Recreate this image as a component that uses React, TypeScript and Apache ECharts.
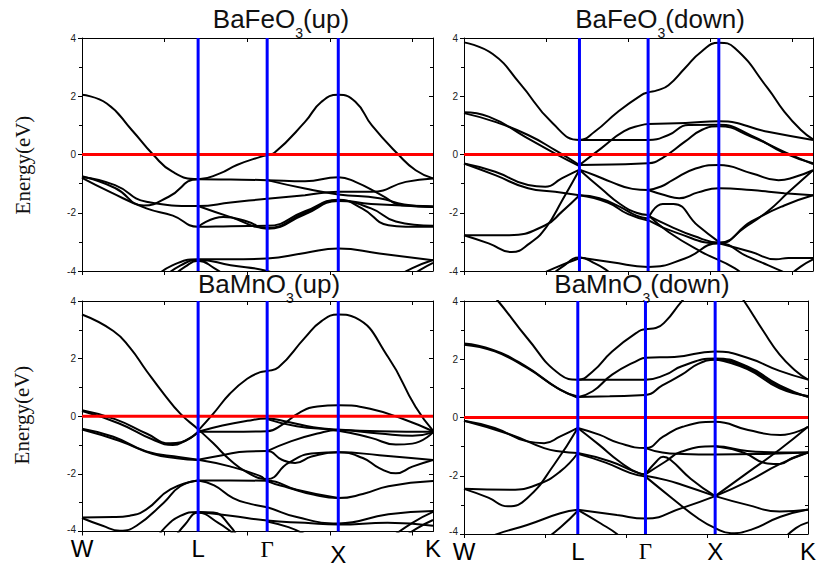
import React, { useEffect, useRef } from 'react';
import * as echarts from 'echarts';

// high-symmetry points (k-path coordinate) and their labels
const symLabels = ['W', 'L', 'Γ', 'X', 'K'];
const symPos = [0, 1.406, 2.242, 3.103, 4.25];
const tickPos = [0, 1, 2, 3, 4];
const kMax = 4.25;

const panelTitles = [
  ['BaFeO', '3', '(up)'],
  ['BaFeO', '3', '(down)'],
  ['BaMnO', '3', '(up)'],
  ['BaMnO', '3', '(down)'],
];

// BaFeO3 spin up bands [k, E(eV)]
const feUpBands: number[][][] = [
  [[0, 2.05], [0.3, 1.75], [0.6, 0.85], [0.86, 0], [1.1, -0.6], [1.406, -0.85], [1.67, -0.65], [1.875, -0.36], [2.16, -0.08], [2.242, -0.02], [2.33, 0.06], [2.7, 1.12], [2.9, 1.81], [3.103, 2.05], [3.31, 1.81], [3.51, 1.0], [3.83, 0], [4.04, -0.54], [4.25, -0.82]],
  [[0, -0.75], [0.4, -1.15], [0.75, -1.75], [1.05, -1.45], [1.406, -0.85], [1.8, -0.86], [2.242, -0.88], [2.7, -0.92], [3.103, -0.78], [3.31, -0.94], [3.63, -1.4], [3.87, -1.74], [4.25, -1.8]],
  [[0, -0.77], [0.4, -1.05], [0.78, -1.62], [1.406, -1.77], [1.8, -1.65], [2.242, -1.52], [2.7, -1.4], [3.103, -1.28], [3.51, -1.28], [3.92, -0.94], [4.25, -0.82]],
  [[0, -0.8], [0.35, -1.3], [0.78, -1.85], [1.1, -2.1], [1.406, -2.48], [1.8, -2.46], [2.242, -2.45], [2.7, -1.95], [3.103, -1.55], [3.39, -1.85], [3.71, -2.43], [3.92, -2.48], [4.25, -2.48]],
  [[1.406, -2.48], [1.71, -2.15], [2.0, -2.3], [2.242, -2.55], [2.7, -2.05], [3.103, -1.6], [3.5, -1.85], [3.8, -2.3], [4.25, -2.45]],
  [[1.406, -1.77], [1.8, -2.15], [2.242, -2.52], [2.7, -2.0], [3.103, -1.57], [3.5, -1.7], [4.25, -1.78]],
  [[2.242, -0.88], [2.7, -1.17], [3.103, -1.37], [3.6, -1.5], [3.9, -1.72], [4.25, -1.8]],
  [[0.85, -4.3], [1.1, -3.8], [1.406, -3.6], [1.8, -3.6], [2.242, -3.57], [2.7, -3.38], [3.103, -3.23], [3.6, -3.4], [4.25, -3.63]],
  [[0.95, -4.3], [1.2, -3.8], [1.406, -3.62], [1.8, -3.8], [2.242, -4.0], [2.5, -4.3]],
  [[1.05, -4.3], [1.25, -3.85], [1.406, -3.65], [1.6, -3.9], [1.8, -4.3]],
  [[3.75, -4.3], [4.0, -3.9], [4.25, -3.62]],
  [[3.9, -4.3], [4.1, -3.95], [4.25, -3.72]],
];

// BaFeO3 spin down bands
const feDownBands: number[][][] = [
  [[0, 3.85], [0.35, 3.45], [0.68, 2.44], [1.08, 1.07], [1.406, 0.5], [1.59, 0.78], [1.875, 1.47], [2.16, 2.04], [2.242, 2.13], [2.35, 2.2], [2.49, 2.38], [2.69, 2.96], [2.89, 3.53], [3.103, 3.84], [3.3, 3.65], [3.7, 2.27], [3.9, 1.47], [4.1, 0.85], [4.25, 0.52]],
  [[1.406, 0.5], [1.8, 0.5], [2.242, 0.5], [2.49, 0.67], [2.73, 1.01], [3.103, 1.02], [3.5, 0.65], [3.9, 0.05], [4.25, -0.3]],
  [[1.406, -0.36], [1.67, 0.21], [1.95, 0.8], [2.16, 1.01], [2.242, 1.05], [2.7, 1.08], [3.103, 1.14], [3.7, 0.78], [4.25, 0.5]],
  [[1.406, -0.36], [1.8, -0.34], [2.242, -0.3], [2.41, -0.13], [2.69, 0.44], [2.9, 0.85], [3.103, 0.97], [3.5, 0.61], [3.9, 0.09], [4.25, -0.33]],
  [[0, 1.42], [0.38, 1.12], [0.78, 0.67], [1.11, 0.15], [1.406, -0.36]],
  [[0, 1.45], [0.3, 1.3], [0.75, 0.6], [1.1, 0.05], [1.406, -0.4]],
  [[0, -0.31], [0.38, -0.59], [0.78, -1.05], [0.99, -1.11], [1.19, -0.82], [1.406, -0.52]],
  [[0, -0.31], [0.38, -0.71], [0.78, -1.16], [1.11, -1.28], [1.406, -1.4]],
  [[0, -2.77], [0.55, -2.77], [0.99, -2.43], [1.19, -1.97], [1.406, -1.4]],
  [[0, -2.77], [0.3, -3.05], [0.58, -3.35], [0.8, -3.05], [1.0, -2.5], [1.2, -1.55], [1.406, -0.52]],
  [[1.406, -0.52], [1.6, -0.72], [1.79, -0.94], [2.05, -1.18], [2.242, -1.22]],
  [[1.406, -0.52], [1.67, -1.17], [1.9, -1.7], [2.1, -2.0], [2.242, -2.08]],
  [[1.406, -1.4], [1.65, -1.5], [1.9, -1.8], [2.1, -2.1], [2.242, -2.2]],
  [[1.406, -1.4], [1.75, -1.65], [2.0, -2.05], [2.242, -2.27]],
  [[2.242, -1.22], [2.4, -1.1], [2.54, -0.88], [2.82, -0.48], [3.103, -0.36], [3.51, -0.65], [3.83, -0.88], [4.0, -0.8], [4.25, -0.54]],
  [[2.242, -1.22], [2.45, -1.4], [2.62, -1.5], [2.85, -1.3], [3.103, -1.16], [3.5, -1.22], [3.9, -1.33], [4.25, -1.4]],
  [[2.242, -2.1], [2.5, -2.45], [2.8, -2.8], [3.103, -3.02], [3.5, -2.3], [3.9, -1.75], [4.25, -1.4]],
  [[2.242, -2.25], [2.6, -2.7], [3.103, -3.05], [3.42, -2.5], [3.7, -1.95], [3.95, -1.3], [4.25, -0.54]],
  [[2.242, -2.2], [2.42, -1.7], [2.55, -1.7], [2.85, -2.45], [3.103, -3.0]],
  [[3.103, -3.05], [3.5, -3.35], [3.8, -3.6], [3.95, -3.55], [4.25, -3.55]],
  [[2.242, -2.08], [2.49, -2.66], [2.89, -3.34], [3.3, -3.91], [3.45, -4.3]],
  [[1.406, -3.54], [1.8, -3.7], [2.242, -3.86], [2.69, -3.57], [3.103, -3.05], [3.45, -3.5], [3.7, -3.8], [3.9, -4.05], [4.1, -4.3]],
  [[1.0, -4.3], [1.2, -3.85], [1.406, -3.54], [1.6, -3.75], [1.75, -4.0], [1.9, -4.3]],
  [[0.8, -4.3], [1.1, -3.9], [1.406, -3.56]],
  [[3.9, -4.3], [4.1, -3.85], [4.25, -3.6]],
];

// BaMnO3 spin up bands
const mnUpBands: number[][][] = [
  [[0, 3.53], [0.38, 2.96], [0.58, 2.38], [0.78, 1.58], [0.99, 0.78], [1.19, 0.09], [1.406, -0.45], [1.59, -0.94], [1.79, -1.51], [2.0, -1.95], [2.242, -2.18], [2.5, -1.62], [2.82, -1.28], [3.103, -1.25], [3.6, -1.35], [4.25, -1.52]],
  [[1.406, -0.5], [1.59, 0.09], [1.79, 0.78], [2.0, 1.3], [2.16, 1.53], [2.242, 1.57], [2.38, 1.7], [2.7, 2.73], [2.9, 3.3], [3.103, 3.53], [3.31, 3.42], [3.71, 2.04], [4.04, 0.32], [4.25, -0.5]],
  [[0, 0.21], [0.4, -0.1], [0.78, -0.6], [1.07, -0.94], [1.2, -0.9], [1.406, -0.54]],
  [[0, 0.18], [0.45, -0.25], [0.85, -0.8], [1.1, -1.0], [1.25, -0.85], [1.406, -0.56]],
  [[0, -0.43], [0.38, -0.71], [0.78, -1.22], [1.19, -1.42], [1.406, -1.51]],
  [[0, -0.46], [0.45, -0.85], [0.85, -1.3], [1.15, -1.46], [1.406, -1.52]],
  [[1.406, -0.54], [1.8, -0.54], [2.242, -0.52], [2.43, -0.28], [2.63, 0.12], [2.85, 0.34], [3.103, 0.38], [3.5, 0.25], [3.92, -0.13], [4.25, -0.52]],
  [[1.406, -0.54], [1.7, -0.32], [2.0, -0.16], [2.242, -0.08], [2.5, -0.2], [2.8, -0.38], [3.103, -0.46], [3.6, -0.52], [4.25, -0.54]],
  [[2.242, -0.1], [2.6, -0.35], [3.103, -0.5], [3.5, -0.75], [3.8, -0.98], [4.0, -0.95], [4.25, -0.56]],
  [[1.406, -1.51], [1.7, -1.35], [2.0, -1.22], [2.242, -1.21], [2.42, -1.51], [2.58, -1.62], [2.78, -1.4], [3.103, -1.25], [3.4, -1.45], [3.6, -1.8], [3.8, -1.98], [4.0, -1.75], [4.25, -1.52]],
  [[2.242, -1.21], [2.52, -0.88], [2.85, -0.6], [3.103, -0.48], [3.6, -0.6], [4.0, -0.68], [4.25, -0.56]],
  [[1.406, -1.51], [1.79, -1.74], [2.16, -2.08], [2.242, -2.25], [2.5, -2.48], [2.8, -2.72], [3.103, -2.84], [3.4, -2.7], [3.71, -2.43], [4.25, -2.25]],
  [[1.406, -2.23], [1.8, -2.23], [2.242, -2.24], [2.6, -2.55], [3.103, -2.84]],
  [[0, -3.51], [0.38, -3.5], [0.58, -3.45], [0.78, -3.23], [1.07, -2.54], [1.406, -2.23]],
  [[0, -3.53], [0.25, -3.8], [0.46, -3.97], [0.66, -3.8], [0.99, -3.0], [1.19, -2.43], [1.406, -2.23]],
  [[1.406, -2.23], [1.6, -2.4], [1.83, -2.84], [2.05, -3.05], [2.242, -3.16], [2.6, -3.5], [3.103, -3.72], [3.71, -3.4], [4.25, -3.29]],
  [[1.406, -3.32], [1.8, -3.45], [2.242, -3.62], [2.7, -3.7], [3.103, -3.76], [3.7, -3.7], [4.25, -3.8]],
  [[0.9, -4.3], [0.99, -3.91], [1.19, -3.46], [1.406, -3.32], [1.59, -3.34], [1.79, -3.8], [1.9, -4.3]],
  [[1.1, -4.3], [1.25, -3.75], [1.406, -3.35], [1.65, -3.7], [1.85, -4.1], [1.95, -4.3]],
  [[2.242, -3.65], [2.5, -3.85], [2.7, -4.1], [2.8, -4.3]],
  [[3.7, -4.3], [4.0, -3.7], [4.25, -3.32]],
  [[3.85, -4.3], [4.05, -3.9], [4.25, -3.6]],
];

// BaMnO3 spin down bands
const mnDownBands: number[][][] = [
  [[0, 5.3], [0.42, 4.0], [0.78, 2.73], [1.19, 1.47], [1.406, 1.3], [1.59, 1.58], [1.83, 2.27], [2.16, 2.96], [2.242, 3.03], [2.37, 3.07], [2.49, 3.3], [2.69, 3.99], [2.9, 4.6], [3.103, 4.85], [3.3, 4.6], [3.46, 4.0], [3.7, 2.96], [3.9, 2.16], [4.1, 1.6], [4.25, 1.3]],
  [[0, 2.5], [0.38, 2.27], [0.78, 1.7], [1.19, 0.95], [1.406, 0.72]],
  [[0, 2.54], [0.35, 2.33], [0.75, 1.78], [1.15, 1.02], [1.406, 0.68]],
  [[1.406, 0.7], [1.8, 0.73], [2.242, 0.77], [2.45, 1.1], [2.69, 1.47], [2.9, 1.85], [3.103, 1.98], [3.5, 1.7], [3.9, 1.05], [4.25, 0.72]],
  [[1.406, 0.7], [1.59, 0.9], [1.83, 1.47], [2.16, 1.98], [2.242, 2.05], [2.6, 2.08], [3.103, 2.27], [3.5, 2.05], [3.9, 1.6], [4.25, 1.3]],
  [[1.406, 1.3], [1.8, 1.3], [2.242, 1.3], [2.49, 1.47], [2.69, 1.76], [3.103, 2.03], [3.5, 1.75], [3.9, 1.1], [4.25, 0.7]],
  [[3.103, 2.0], [3.5, 1.66], [3.9, 1.0], [4.25, 0.74]],
  [[0, -0.11], [0.38, -0.36], [0.78, -0.82], [0.99, -0.88], [1.19, -0.65], [1.406, -0.36]],
  [[0, -0.11], [0.58, -0.59], [0.99, -1.05], [1.19, -1.17], [1.406, -1.22]],
  [[0, -2.45], [0.58, -2.48], [0.9, -2.31], [1.19, -1.85], [1.406, -1.22]],
  [[0, -2.45], [0.3, -2.75], [0.54, -3.05], [0.78, -2.77], [1.11, -1.63], [1.406, -0.36]],
  [[1.406, -0.36], [1.67, -0.59], [1.92, -0.88], [2.242, -1.05], [2.46, -0.66], [2.7, -0.32], [3.103, -0.15], [3.51, -0.43], [3.91, -0.6], [4.25, -0.32]],
  [[1.406, -0.36], [1.67, -0.94], [1.92, -1.51], [2.16, -1.91], [2.242, -1.95]],
  [[1.406, -1.22], [1.8, -1.5], [2.1, -1.85], [2.242, -1.98]],
  [[1.406, -1.25], [1.75, -1.55], [2.05, -1.9], [2.242, -2.03]],
  [[2.242, -1.95], [2.49, -1.51], [2.69, -1.17], [3.103, -0.99], [3.5, -1.15], [3.9, -1.2], [4.25, -1.2]],
  [[3.103, -0.99], [3.45, -1.2], [3.75, -1.58], [3.9, -1.6], [4.05, -1.4], [4.25, -1.2]],
  [[2.242, -1.05], [2.45, -1.2], [2.7, -1.25], [3.103, -1.27], [3.7, -1.25], [4.25, -1.2]],
  [[2.242, -1.95], [2.38, -1.5], [2.46, -1.35], [2.55, -1.45], [2.8, -2.1], [3.103, -2.7]],
  [[2.242, -2.0], [2.5, -2.15], [2.69, -2.31], [3.103, -2.7]],
  [[2.242, -2.03], [2.57, -2.77], [2.89, -3.46], [3.103, -3.8], [3.3, -3.97], [3.55, -3.85], [3.91, -3.41], [4.25, -3.16]],
  [[1.406, -3.17], [1.89, -3.35], [2.242, -3.47], [2.69, -3.11], [3.103, -2.7]],
  [[3.103, -2.7], [3.5, -1.9], [3.9, -1.1], [4.25, -0.32]],
  [[3.103, -2.7], [3.5, -2.2], [3.9, -1.6], [4.25, -1.2]],
  [[3.103, -2.7], [3.5, -3.0], [3.9, -3.23], [4.25, -3.17]],
  [[0.15, -4.3], [0.38, -4.03], [0.78, -3.69], [1.19, -3.29], [1.406, -3.17]],
  [[0.95, -4.3], [1.2, -3.75], [1.406, -3.2]],
  [[1.406, -3.17], [1.69, -3.64], [1.89, -4.0], [2.0, -4.3]],
  [[3.9, -4.3], [4.1, -3.8], [4.25, -3.6]],
];

const panelBands = [feUpBands, feDownBands, mnUpBands, mnDownBands];

const grids = [
  { left: 82, top: 38, width: 351, height: 233 },
  { left: 464, top: 38, width: 349, height: 233 },
  { left: 82, top: 301, width: 351, height: 233 },
  { left: 464, top: 301, width: 349, height: 233 },
];

const titlePos = [
  { x: 281, y: 6 },
  { x: 660, y: 6 },
  { x: 269, y: 271 },
  { x: 642, y: 271 },
];

function buildOption() {
  const xAxis: any[] = [];
  const yAxis: any[] = [];
  const series: any[] = [];
  const graphic: any[] = [];

  grids.forEach((g, i) => {
    const bottomRow = i >= 2;
    xAxis.push({
      gridIndex: i, type: 'value', min: 0, max: kMax, position: 'bottom',
      axisLine: { show: true, onZero: false, lineStyle: { color: '#000', width: 1 } },
      axisTick: { show: true, inside: false, length: 4, customValues: tickPos, lineStyle: { color: '#000' } },
      splitLine: { show: false },
      axisLabel: {
        show: bottomRow,
        customValues: symPos,
        margin: 7,
        formatter: (v: number) => {
          const k = symPos.findIndex((p) => Math.abs(p - v) < 1e-6);
          if (k < 0) return '';
          const t = symLabels[k];
          if (t === 'Γ') return '{g|Γ}';
          if (i === 2 && t === 'X') return '{lo|X}';
          return '{s|' + t + '}';
        },
        rich: {
          s: { fontFamily: 'Liberation Sans', fontSize: 24, lineHeight: 20, color: '#000' },
          g: { fontFamily: 'Liberation Serif', fontSize: 23, lineHeight: 20, color: '#000', padding: [1, 0, 0, 0] },
          lo: { fontFamily: 'Liberation Sans', fontSize: 24, lineHeight: 20, color: '#000', padding: [11, 0, 0, 0] },
        },
      },
    });
    xAxis.push({
      gridIndex: i, type: 'value', min: 0, max: kMax, position: 'top',
      axisLine: { show: true, onZero: false, lineStyle: { color: '#000', width: 1 } },
      axisTick: { show: true, inside: true, length: 4, customValues: tickPos, lineStyle: { color: '#000' } },
      axisLabel: { show: false },
      splitLine: { show: false },
    });
    yAxis.push({
      gridIndex: i, type: 'value', min: -4, max: 4, interval: 2, position: 'left',
      axisLine: { show: true, onZero: false, lineStyle: { color: '#000', width: 1 } },
      axisTick: { show: true, inside: false, length: 4, lineStyle: { color: '#000' } },
      minorTick: { show: true, splitNumber: 2, length: 3, lineStyle: { color: '#000' } },
      axisLabel: {
        fontSize: 10, color: '#222', fontFamily: 'Liberation Sans', margin: 6,
        formatter: (v: number) => (bottomRow && v === -4 ? '{m|-4}' : String(v)),
        rich: { m: { fontSize: 10, color: '#222', fontFamily: 'Liberation Sans', padding: [0, 0, 5, 0] } },
      },
      splitLine: { show: false },
    });
    yAxis.push({
      gridIndex: i, type: 'value', min: -4, max: 4, interval: 2, position: 'right',
      axisLine: { show: true, onZero: false, lineStyle: { color: '#000', width: 1 } },
      axisTick: { show: true, inside: true, length: 4, lineStyle: { color: '#000' } },
      minorTick: { show: true, splitNumber: 2, length: 3, lineStyle: { color: '#000' } },
      axisLabel: { show: false },
      splitLine: { show: false },
    });

    panelBands[i].forEach((band) => {
      series.push({
        type: 'line', xAxisIndex: 2 * i, yAxisIndex: 2 * i, data: band,
        symbol: 'none', showSymbol: false, smooth: 0.5,
        lineStyle: { color: '#000', width: 2 }, silent: true, z: 2,
      });
    });
    series.push({
      type: 'line', xAxisIndex: 2 * i, yAxisIndex: 2 * i, data: [[0, 0], [kMax, 0]],
      symbol: 'none', lineStyle: { color: '#ff0000', width: 3 }, silent: true, z: 3,
    });
    [symPos[1], symPos[2], symPos[3]].forEach((p) => {
      series.push({
        type: 'line', xAxisIndex: 2 * i, yAxisIndex: 2 * i, data: [[p, -4], [p, 4]],
        symbol: 'none', lineStyle: { color: '#0000ff', width: 3 }, silent: true, z: 4,
      });
    });

    const t = panelTitles[i];
    graphic.push({
      type: 'text', x: titlePos[i].x, y: titlePos[i].y, silent: true,
      style: {
        text: '{a|' + t[0] + '}{s|' + t[1] + '}{a|' + t[2] + '}',
        align: 'center', verticalAlign: 'top',
        rich: {
          a: { fontSize: 26, lineHeight: 34, verticalAlign: 'top', fontFamily: 'Liberation Sans', fill: '#111' },
          s: { fontSize: 14, lineHeight: 10, verticalAlign: 'bottom', fontFamily: 'Liberation Sans', fill: '#111' },
        },
      },
    });
  });

  const energyStyle = { text: 'Energy(eV)', fontSize: 21, fontFamily: 'Liberation Serif', fill: '#111', align: 'center', verticalAlign: 'middle' };
  graphic.push({ type: 'text', x: 23, y: 165, rotation: Math.PI / 2, silent: true, style: { ...energyStyle } });
  graphic.push({ type: 'text', x: 22, y: 415, rotation: Math.PI / 2, silent: true, style: { ...energyStyle } });

  return {
    animation: false,
    backgroundColor: '#fff',
    grid: grids.map((g) => ({ ...g, containLabel: false })),
    xAxis, yAxis, series, graphic,
  };
}

export default function App() {
  const ref = useRef<HTMLDivElement>(null);
  useEffect(() => {
    if (!ref.current) return;
    const chart = echarts.init(ref.current, null, { renderer: 'svg' });
    chart.setOption(buildOption() as any);
    return () => chart.dispose();
  }, []);
  return (
    <div
      ref={ref}
      style={{ position: 'fixed', left: 0, top: 0, width: 819, height: 566, background: '#fff' }}
    />
  );
}
